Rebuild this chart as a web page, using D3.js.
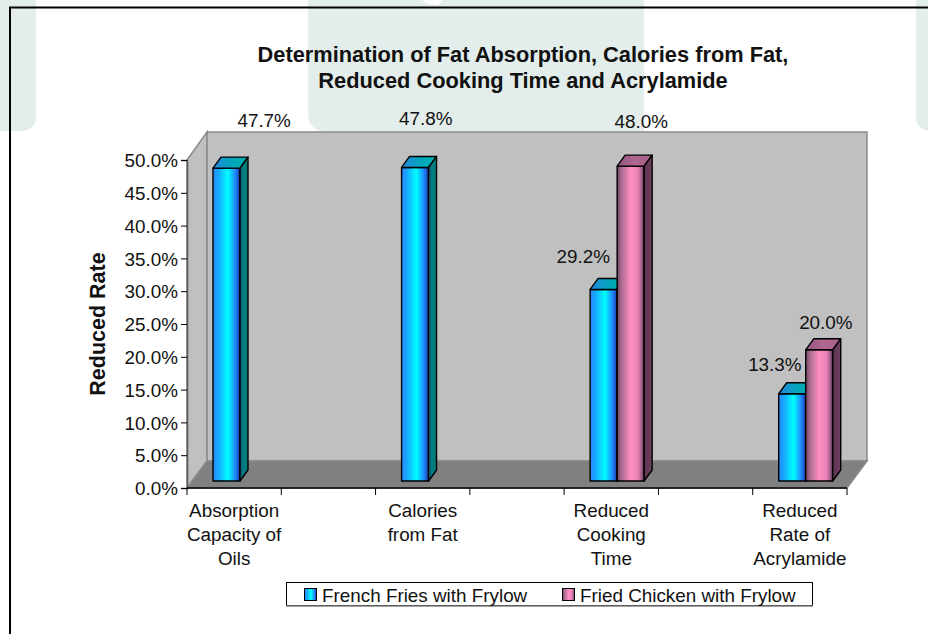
<!DOCTYPE html>
<html><head><meta charset="utf-8">
<script src="https://cdn.jsdelivr.net/npm/d3@7"></script>
<style>html,body{margin:0;padding:0;background:#fff}svg{display:block}text{font-family:"Liberation Sans",Arial,sans-serif;fill:#111}</style>
</head><body><svg id="c" width="928" height="634"></svg>
<script>
// --- data ---
const slots = ["a","b","c","d","e","f","g"];
const categories = [["Absorption","Capacity of","Oils"],[],["Calories","from Fat"],[],["Reduced","Cooking","Time"],[],["Reduced","Rate of","Acrylamide"]];
const frenchFries = [47.7,null,47.8,null,29.2,null,13.3];
const friedChicken = [null,null,null,null,48.0,null,20.0];
const seriesNames = ["French Fries with Frylow","Fried Chicken with Frylow"];
const yTicks = [0,5,10,15,20,25,30,35,40,45,50];
const titleLines = ["Determination of Fat Absorption, Calories from Fat,","Reduced Cooking Time and Acrylamide"];

// --- layout ---
const svg = d3.select("#c");
const X0=187,X1=847,Y0=488,Y50=160,WX=20,WY=27,BX=8,BY=11,BARW=27,BARIN=26,BARUP=7,FS=18.85;
const x = d3.scaleBand().domain(slots).range([X0,X1]);
const y = d3.scaleLinear().domain([0,50]).range([Y0,Y50]);

const defs = svg.append("defs");
function grad(id,stops){const g=defs.append("linearGradient").attr("id",id);
  stops.forEach(([o,c])=>g.append("stop").attr("offset",o).attr("stop-color",c));}
grad("bf",[[0,"#2a86ff"],[.2,"#17a8ff"],[.55,"#00ffff"],[.82,"#1f8cff"],[.93,"#1c5ad0"],[1,"#1a2f80"]]);
grad("bt",[[0,"#2288dd"],[.6,"#00a8b8"],[1,"#00b0b0"]]);
grad("bs",[[0,"#0f5a78"],[.5,"#007f80"],[1,"#007878"]]);
grad("pf",[[0,"#6f4560"],[.15,"#a86a90"],[.5,"#ff8fc4"],[.78,"#e882b4"],[.9,"#a06088"],[1,"#5a3350"]]);
grad("pt",[[0,"#90557e"],[.5,"#b0688f"],[1,"#a8608c"]]);
grad("ps",[[0,"#5a3350"],[1,"#703f5f"]]);

// background slide blocks
const bg = svg.append("g").attr("fill","#e3edeb");
const blocks = [[0,36,0,0,16],[308,644,18,0,0],[916,928,16,0,0]];
blocks.forEach(([a,b,rl,_,rr])=>{
  const B=131;
  bg.append("path").attr("d",`M${a},0H${b}V${B-rr}Q${b},${B} ${b-rr},${B}H${a+rl}Q${a},${B} ${a},${B-rl}Z`);
});
svg.append("path").attr("d","M422,0Q428,6 438,5Q441,3 442,0Z").attr("fill","#fff");

// frame
svg.append("path").attr("d","M928,7.5H10V634").attr("fill","none").attr("stroke","#000").attr("stroke-width",2);

// walls and floor
const line = d3.line();
const wall = (pts,fill)=>svg.append("path").attr("d",line(pts)+"Z").attr("fill",fill).attr("stroke","#8a8a8a").attr("stroke-width",1.5);
wall([[X0,Y50],[X0+WX,Y50-WY-1],[X0+WX,Y0-WY],[X0,Y0]],"#c0c0c0");
wall([[X0+WX,Y50-WY-1],[X1+WX,Y50-WY-1],[X1+WX,Y0-WY],[X0+WX,Y0-WY]],"#c0c0c0");
wall([[X0,Y0],[X1,Y0],[X1+WX,Y0-WY],[X0+WX,Y0-WY]],"#808080");

// bars
const seriesGrad=[["bf","bt","bs"],["pf","pt","ps"]];
[frenchFries,friedChicken].forEach((vals,si)=>{
  const g=svg.append("g").attr("stroke","#000").attr("stroke-width",1.4).attr("stroke-linejoin","round");
  const bars=slots.map((s,i)=>({s,v:vals[i]})).filter(d=>d.v!=null);
  const geo=d=>{const l=x(d.s)+BARIN+si*BARW,r=l+BARW,t=y(d.v)-BARUP,b=y(0)-BARUP;return{l,r,t,b};};
  g.selectAll(".f").data(bars).join("rect").attr("x",d=>geo(d).l).attr("y",d=>geo(d).t)
    .attr("width",BARW).attr("height",d=>geo(d).b-geo(d).t).attr("fill",`url(#${seriesGrad[si][0]})`);
  g.selectAll(".t").data(bars).join("path").attr("fill",`url(#${seriesGrad[si][1]})`)
    .attr("d",d=>{const {l,r,t}=geo(d);return line([[l,t],[l+BX,t-BY],[r+BX,t-BY],[r,t]])+"Z";});
  g.selectAll(".s").data(bars).join("path").attr("fill",`url(#${seriesGrad[si][2]})`)
    .attr("d",d=>{const {r,t,b}=geo(d);return line([[r,t],[r+BX,t-BY],[r+BX,b-BY],[r,b]])+"Z";});
});

// axes
const ax = svg.append("g").attr("transform",`translate(${X0},0)`)
  .call(d3.axisLeft(y).tickValues(yTicks).tickSize(6).tickPadding(3).tickFormat(d=>d.toFixed(1)+"%"));
ax.select(".domain").attr("stroke","#555").attr("stroke-width",1.5);
ax.selectAll("text").attr("font-size",FS).attr("font-family",null).attr("dy","0.36em");
const bx = svg.append("g").attr("transform",`translate(0,${Y0})`)
  .call(d3.axisBottom(x).tickSize(7).tickFormat(""));
bx.selectAll(".tick").remove();
bx.select(".domain").attr("stroke","#000").attr("stroke-width",1.5).attr("d",`M${X0},0H${X1}`);
const step=x.step();
d3.range(slots.length+1).forEach(i=>bx.append("line").attr("x1",X0+i*step).attr("x2",X0+i*step).attr("y1",0).attr("y2",7).attr("stroke","#000"));
slots.forEach((s,i)=>{
  categories[i].forEach((t,j)=>svg.append("text").attr("x",x(s)+step/2).attr("y",517+j*24)
    .attr("text-anchor","middle").attr("font-size",FS).text(t));
});

// data labels: nudges are renderer placement, not data
const nudge = {
  "0-a":[30,-48],"0-c":[3,-49],"0-e":[-28,-33],"0-g":[-25,-30],
  "1-e":[30,-45],"1-g":[26,-28]};
[frenchFries,friedChicken].forEach((vals,si)=>{
  slots.forEach((s,i)=>{ if(vals[i]==null) return;
    const [dx,dy]=nudge[si+"-"+s];
    svg.append("text").attr("x",x(s)+step/2+dx).attr("y",y(vals[i])+dy)
      .attr("text-anchor","middle").attr("font-size",FS).text(vals[i].toFixed(1)+"%");
  });
});

// title + y title
titleLines.forEach((t,i)=>svg.append("text").attr("x",523).attr("y",62+i*26).attr("text-anchor","middle")
  .attr("font-size",21.8).attr("font-weight","bold").text(t));
svg.append("text").attr("transform","translate(105,324) rotate(-90)").attr("text-anchor","middle")
  .attr("font-size",21.5).attr("font-weight","bold").text("Reduced Rate");

// legend
const lg=svg.append("g");
lg.append("rect").attr("x",286.5).attr("y",582.5).attr("width",526).attr("height",23).attr("fill","#fff").attr("stroke","#000").attr("stroke-width",1);
lg.append("path").attr("d","M286,606H813").attr("stroke","#808080").attr("stroke-width",1.5);
seriesNames.forEach((n,i)=>{
  const sx=[304.5,562.5][i], tx=[322,580][i];
  lg.append("rect").attr("x",sx).attr("y",588.5).attr("width",12).attr("height",12).attr("fill",`url(#${seriesGrad[i][0]})`).attr("stroke","#000");
  lg.append("text").attr("x",tx).attr("y",602).attr("font-size",FS).text(n);
});
</script></body></html>
